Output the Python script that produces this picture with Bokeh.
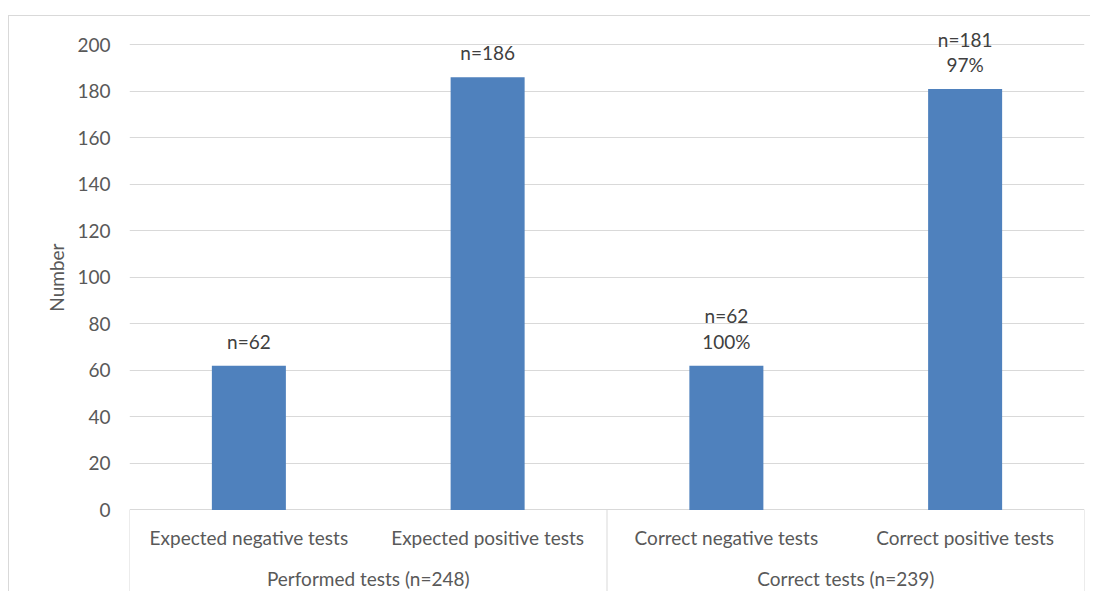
from bokeh.plotting import figure
from bokeh.models import FactorRange, Range1d, FixedTicker, ColumnDataSource, Title
from bokeh.core.properties import value
from bokeh.embed import file_html
from bokeh.resources import INLINE

groups = ["Performed tests (n=248)", "Performed tests (n=248)",
          "Correct tests (n=239)", "Correct tests (n=239)"]
categories = ["Expected negative tests", "Expected positive tests",
              "Correct negative tests", "Correct positive tests"]
counts = [62, 186, 62, 181]
bar_labels = ["n=62", "n=186", "n=62\n100%", "n=181\n97%"]
y_ticks = [0, 20, 40, 60, 80, 100, 120, 140, 160, 180, 200]
y_title = "Number"

FONT = "Lato"
FS = "19px"
AXIS_COLOR = "#595959"
GRID_COLOR = "#D9D9D9"

factors = list(zip(groups, categories))
group_names = list(dict.fromkeys(groups))
src = ColumnDataSource(dict(x=factors, top=counts, label=bar_labels, cat=categories))
gsrc = ColumnDataSource(dict(x=group_names, name=group_names))

y_bottom = -35.5
p = figure(
    x_range=FactorRange(*factors, group_padding=0, factor_padding=0, range_padding=0),
    y_range=Range1d(y_bottom, 210),
    width=1082, height=576,
    output_backend="svg", toolbar_location=None, x_axis_location=None,
    min_border_left=120, min_border_right=7, min_border_top=5, min_border_bottom=0,
)
p.styles = {"border-top": "1px solid #D9D9D9", "border-left": "1px solid #D9D9D9",
            "margin-top": "15px", "margin-left": "8px"}
p.outline_line_color = None

p.vbar(x="x", top="top", width=0.31, source=src, fill_color="#4F81BD", line_color=None)
p.text(x="x", y="top", text="label", source=src, text_align="center",
       text_baseline="bottom", y_offset=-13, text_font=value(FONT),
       text_font_size=FS, text_color="#404040", text_line_height=1.1)

# category axis panel below the value zero line
p.text(x="x", y=0, text="cat", source=src, text_align="center", text_baseline="middle",
       y_offset=28, text_font=value(FONT), text_font_size=FS, text_color=AXIS_COLOR)
p.text(x="x", y=0, text="name", source=gsrc, text_align="center", text_baseline="middle",
       y_offset=69, text_font=value(FONT), text_font_size=FS, text_color=AXIS_COLOR)
bounds = [0] + [i for i in range(1, len(groups)) if groups[i] != groups[i - 1]] + [len(groups)]
p.segment(x0=bounds, y0=[0] * len(bounds), x1=bounds, y1=[y_bottom] * len(bounds),
          line_color=GRID_COLOR, line_width=1)

# y axis
yax = p.yaxis[0]
yax.ticker = FixedTicker(ticks=y_ticks)
yax.axis_line_color = None
yax.major_tick_line_color = None
yax.major_tick_out = 0
yax.major_tick_in = 0
yax.minor_tick_line_color = None
yax.minor_tick_out = 0
yax.major_label_standoff = 19
yax.major_label_text_font = FONT
yax.major_label_text_font_size = FS
yax.major_label_text_color = AXIS_COLOR

# value-axis title, centred on the 0..200 part of the axis
p.add_layout(Title(text=y_title, align="right", offset=222, standoff=14,
                   text_font=FONT, text_font_size=FS, text_font_style="normal",
                   text_color=AXIS_COLOR), "left")

p.xgrid.grid_line_color = None
p.ygrid.grid_line_color = GRID_COLOR
p.ygrid.grid_line_width = 1

open("out.html", "w").write(file_html(p, INLINE))
